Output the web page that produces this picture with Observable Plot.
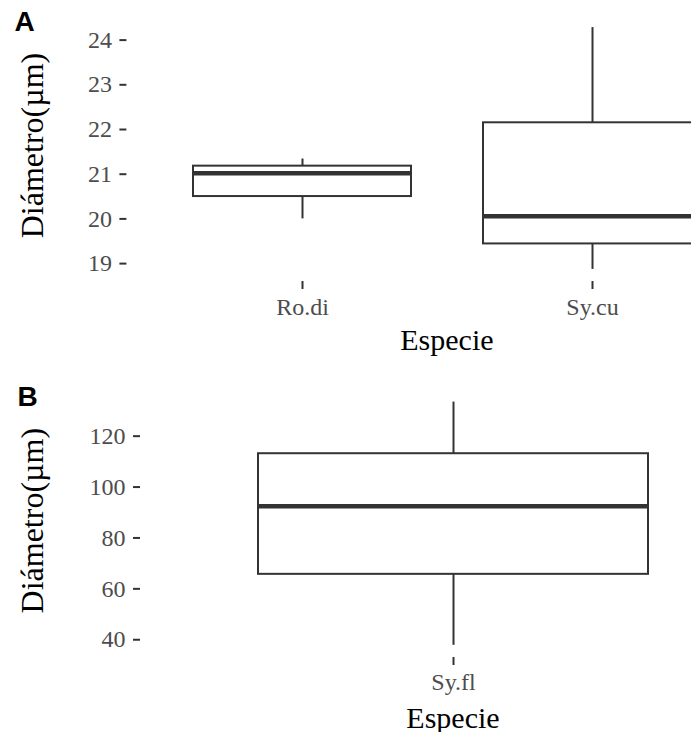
<!DOCTYPE html>
<html>
<head>
<meta charset="utf-8">
<script src="https://cdn.jsdelivr.net/npm/d3@7"></script>
<script src="https://cdn.jsdelivr.net/npm/@observablehq/plot@0.6"></script>
<style>
html, body { margin: 0; padding: 0; background: #fff; }
#outer { width: 691px; height: 732px; overflow: hidden; position: relative; }
#inner { width: 767px; }
#inner svg { display: block; max-width: none; font-family: 'Liberation Serif', 'Times New Roman', serif; }
</style>
</head>
<body>
<div id="outer"><div id="inner"></div></div>
<script>
// Panel A data
const speciesA = ["Ro.di", "Sy.cu"];
const minA = [20.0, 18.87];
const q1A = [20.5, 19.44];
const medianA = [21.02, 20.06];
const q3A = [21.18, 22.15];
const maxA = [21.34, 24.28];
const ticksA = [19, 20, 21, 22, 23, 24];

// Panel B data
const speciesB = ["Sy.fl"];
const minB = [37.8];
const q1B = [65.7];
const medianB = [92.5];
const q3B = [113.1];
const maxB = [133.4];
const ticksB = [40, 60, 80, 100, 120];

const xTitle = "Especie";
const yTitle = "Diámetro(µm)";
const tags = ["A", "B"];

const serif = "Liberation Serif";
const sans = "Liberation Sans";

function panel(cfg) {
  const rows = cfg.species.map((s, i) => ({
    species: s, min: cfg.min[i], q1: cfg.q1[i], median: cfg.median[i], q3: cfg.q3[i], max: cfg.max[i]
  }));
  const lo = d3.min(cfg.min), hi = d3.max(cfg.max);
  const pad = (hi - lo) * 0.05;
  return Plot.plot({
    width: 767,
    height: cfg.height,
    marginTop: cfg.marginTop,
    marginBottom: cfg.marginBottom,
    marginLeft: cfg.marginLeft,
    marginRight: cfg.marginRight,
    style: { background: "white", maxWidth: "none", fontFamily: "'Liberation Serif', 'Times New Roman', serif" },
    x: { type: "band", domain: cfg.species, paddingInner: 0.25, paddingOuter: 0.225, align: 0.5 },
    y: { domain: [lo - pad, hi + pad] },
    marks: [
      Plot.axisY({ ticks: cfg.ticks, tickFormat: d3.format("d"), tickSize: 7, tickPadding: 8, fontSize: 24,
        fontFamily: serif, stroke: "#333333", fill: "#4D4D4D", strokeWidth: 2, label: null }),
      Plot.axisX({ tickSize: 8, tickPadding: cfg.xTickPadding, fontSize: 24, fontFamily: serif,
        stroke: "#333333", fill: "#4D4D4D", strokeWidth: 2, label: null }),
      Plot.ruleX(rows, { x: "species", y1: "q3", y2: "max", stroke: "#333333", strokeWidth: 2 }),
      Plot.ruleX(rows, { x: "species", y1: "min", y2: "q1", stroke: "#333333", strokeWidth: 2 }),
      Plot.barY(rows, { x: "species", y1: "q1", y2: "q3", fill: "white", stroke: "#333333", strokeWidth: 2 }),
      Plot.tickY(rows, { x: "species", y: "median", stroke: "#333333", strokeWidth: 4.5 }),
      Plot.text([xTitle], { text: d => d, frameAnchor: "bottom", lineAnchor: "bottom", dy: cfg.xTitleDy, fontSize: 30,
        fontFamily: serif, fill: "black", textAnchor: "middle" }),
      Plot.text([yTitle], { text: d => d, frameAnchor: "left", rotate: -90, dx: cfg.yTitleDx, dy: -3,
        fontSize: 32, fontFamily: serif, fill: "black", textAnchor: "middle" }),
      Plot.text([cfg.tag], { text: d => d, frameAnchor: "top-left", textAnchor: "start", lineAnchor: "bottom",
        dx: cfg.tagDx, dy: cfg.tagDy, fontSize: 28, fontWeight: "bold", fontFamily: sans, fill: "black" })
    ]
  });
}

const inner = document.getElementById("inner");
inner.append(panel({
  tag: tags[0], species: speciesA, min: minA, q1: q1A, median: medianA, q3: q3A, max: maxA, ticks: ticksA,
  height: 365, marginTop: 15, marginBottom: 84, marginLeft: 126.4, marginRight: 0.6, xTickPadding: 8,
  xTitleDy: 68, yTitleDx: -94.6, tagDx: 14 - 126.4, tagDy: 15
}));
inner.append(panel({
  tag: tags[1], species: speciesB, min: minB, q1: q1B, median: medianB, q3: q3B, max: maxB, ticks: ticksB,
  height: 367, marginTop: 24.4, marginBottom: 75, marginLeft: 140, marginRight: 2, xTickPadding: 7,
  xTitleDy: 70, yTitleDx: -108.2, tagDx: 17 - 140, tagDy: 15.6
}));
</script>
</body>
</html>
